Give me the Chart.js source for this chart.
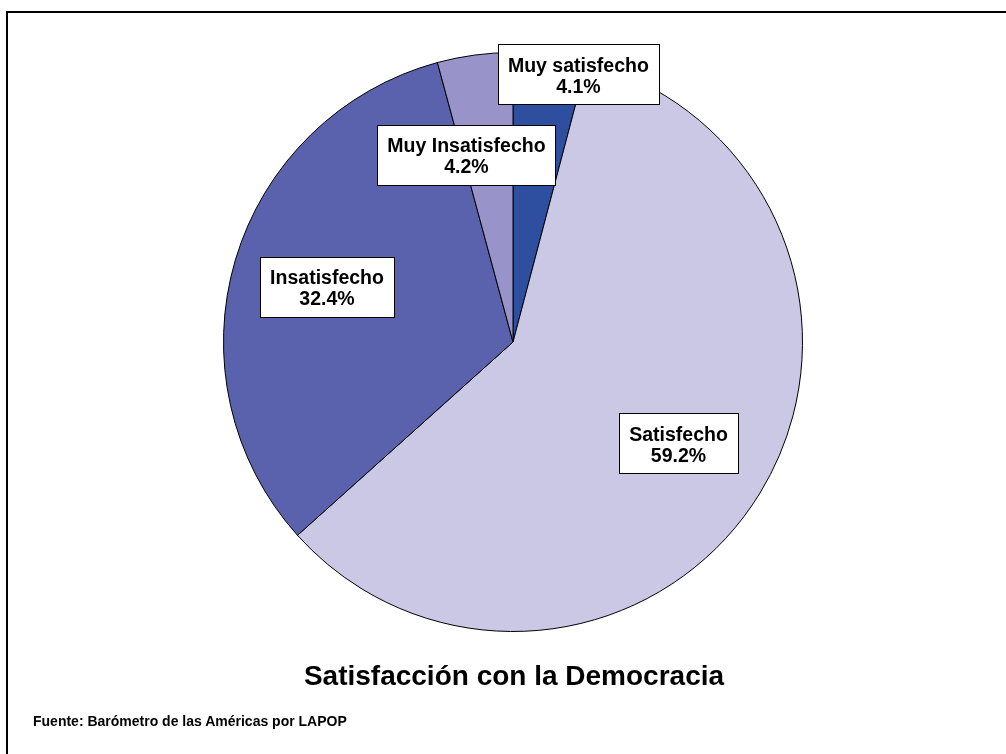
<!DOCTYPE html>
<html>
<head>
<meta charset="utf-8">
<script src="https://cdn.jsdelivr.net/npm/chart.js@4"></script>
<style>
  html,body{margin:0;padding:0;background:#fff;}
  #wrap{position:relative;width:1006px;height:754px;overflow:hidden;}
  #frame{position:absolute;left:6px;top:11px;width:1010px;height:760px;border-top:2px solid #000;border-left:2px solid #000;}
  #pie{position:absolute;left:0;top:0;}
  .title{position:absolute;left:0;width:1028px;top:660px;text-align:center;font:bold 28px "Liberation Sans",Arial,sans-serif;color:#000;}
  .src{position:absolute;left:33px;top:713px;font:bold 14px "Liberation Sans",Arial,sans-serif;color:#000;}
</style>
</head>
<body>
<div id="wrap">
  <div id="frame"></div>
  <canvas id="pie" width="1006" height="754"></canvas>
  <div class="title">Satisfacción con la Democracia</div>
  <div class="src">Fuente: Barómetro de las Américas por LAPOP</div>
</div>
<script>
/* ── DATA ─────────────────────────────────────────────── */
const labels = ['Muy satisfecho','Satisfecho','Insatisfecho','Muy Insatisfecho'];
const values = [4.1, 59.2, 32.4, 4.2];
const colors = ['#2e4fa0','#cbc8e6','#5b62ad','#9894c9'];

/* label boxes drawn on the slices */
const boxLabels = {
  id:'boxLabels',
  afterDatasetsDraw(chart, args, opts){
    const ctx = chart.ctx;
    const arcs = chart.getDatasetMeta(0).data;
    ctx.save();
    ctx.font = 'bold 19.5px "Liberation Sans", Arial, sans-serif';
    ctx.textAlign = 'center';
    ctx.textBaseline = 'middle';
    arcs.forEach((arc,i)=>{
      const {x,y,startAngle,endAngle,outerRadius} = arc.getProps(['x','y','startAngle','endAngle','outerRadius'],true);
      const mid = (startAngle+endAngle)/2;
      const f = opts.radial[i], sh = opts.shift[i];
      const cx = x + Math.cos(mid)*outerRadius*f + sh[0];
      const cy = y + Math.sin(mid)*outerRadius*f + sh[1];
      const l1 = chart.data.labels[i];
      const l2 = values[i].toFixed(1)+'%';
      const w = Math.round(Math.max(ctx.measureText(l1).width, ctx.measureText(l2).width) + 20);
      const h = 60;
      const bx = Math.round(cx-w/2)+0.5, by = Math.round(cy-h/2)+0.5;
      ctx.fillStyle = '#fff';
      ctx.fillRect(bx, by, w, h);
      ctx.strokeStyle = '#000';
      ctx.lineWidth = 1;
      ctx.strokeRect(bx, by, w, h);
      ctx.fillStyle = '#000';
      ctx.fillText(l1, cx, cy-8);
      ctx.fillText(l2, cx, cy+13);
    });
    ctx.restore();
  }
};

new Chart(document.getElementById('pie'),{
  type:'pie',
  data:{
    labels:labels,
    datasets:[{ data:values, backgroundColor:colors, borderColor:'#000', borderWidth:1 }]
  },
  options:{
    responsive:false, animation:false,
    layout:{padding:{top:52,bottom:122,left:223,right:203}},
    plugins:{
      legend:{display:false},
      tooltip:{enabled:false},
      boxLabels:{ radial:[0.95,0.67,0.67,0.67], shift:[[30,5],[0,0],[0,0],[-21,5]] }
    }
  },
  plugins:[boxLabels]
});
</script>
</body>
</html>
